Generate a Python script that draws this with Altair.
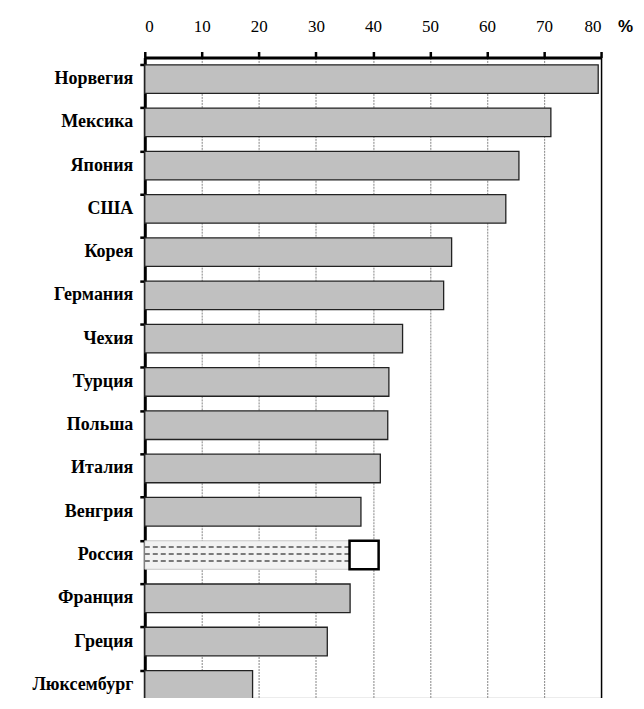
import altair as alt
import pandas as pd

countries = ["Норвегия", "Мексика", "Япония", "США", "Корея", "Германия", "Чехия",
             "Турция", "Польша", "Италия", "Венгрия", "Россия", "Франция", "Греция", "Люксембург"]
values = [79.5, 71.2, 65.6, 63.3, 53.8, 52.4, 45.2, 42.8, 42.6, 41.3, 37.9, 35.9, 36.0, 32.0, 18.9]
russia_upper = 41.0
x_ticks = [0, 10, 20, 30, 40, 50, 60, 70, 80]

df = pd.DataFrame({"country": countries, "value": values})
df["russia"] = df["country"] == "Россия"
df["upper"] = [russia_upper if r else v for r, v in zip(df["russia"], df["value"])]
df["start"] = 0.0

xscale = alt.Scale(domain=[0, 80], nice=False, zero=True)
yscale = alt.Scale(domain=countries, range=[0, 650], paddingInner=0.34, paddingOuter=0.17)

x_axis = alt.Axis(
    orient="top", values=x_ticks, title="%", titleFont="Liberation Sans", titleFontSize=17,
    titleFontWeight="bold", titleX=481, titleY=-31, titleAngle=0, titleBaseline="middle",
    titleAlign="center",
    labelFont="Liberation Serif", labelFontSize=17, labelColor="black", labelPadding=16,
    domainColor="black", domainWidth=3, tickColor="black", tickWidth=2.5, tickSize=6,
    grid=True,
    gridColor={"condition": {"test": "datum.value == 80", "value": "black"}, "value": "#666"},
    gridDash={"condition": {"test": "datum.value == 80", "value": [1, 0]}, "value": [2, 1]},
    gridWidth={"condition": {"test": "datum.value == 80", "value": 1.5}, "value": 0.8},
)
y_axis = alt.Axis(
    title=None, labelFont="Liberation Serif", labelFontSize=18, labelFontWeight="bold",
    labelColor="black", labelPadding=7, domainColor="black", domainWidth=3,
    tickColor="black", tickWidth=2.5, tickSize=5, bandPosition=0, grid=False,
)

base = alt.Chart(df)

bars = base.transform_filter("!datum.russia").mark_bar(
    fill="#c0c0c0", stroke="#222", strokeWidth=1.3
).encode(
    x=alt.X("value:Q", scale=xscale, axis=x_axis),
    y=alt.Y("country:N", scale=yscale, sort=countries, axis=y_axis),
)

russia = base.transform_filter("datum.russia").mark_bar(
    fill="#f2f2f2", stroke="#bbb", strokeWidth=0.8
).encode(
    x=alt.X("value:Q", scale=xscale),
    y=alt.Y("country:N", scale=yscale, sort=countries),
)

tex = []
for off in [-8, -1, 6]:
    tex.append(
        base.transform_filter("datum.russia").mark_rule(
            color="#7a7a7a", strokeWidth=2.2, strokeDash=[5, 3], yOffset=off
        ).encode(
            x=alt.X("start:Q", scale=xscale),
            x2="value:Q",
            y=alt.Y("country:N", scale=yscale, sort=countries, bandPosition=0.5),
        )
    )

box = base.transform_filter("datum.russia").mark_bar(
    fill="white", stroke="black", strokeWidth=2.5
).encode(
    x=alt.X("value:Q", scale=xscale),
    x2="upper:Q",
    y=alt.Y("country:N", scale=yscale, sort=countries),
)

chart = alt.layer(bars, russia, *tex, box).properties(
    width=457, height=641,
    autosize=alt.AutoSizeParams(type="none"),
    padding={"left": 137, "top": 49, "right": 35, "bottom": 0},
).configure_view(stroke=None).configure(background="white")

chart.save("out.html", embed_options={"renderer": "svg", "actions": False})
